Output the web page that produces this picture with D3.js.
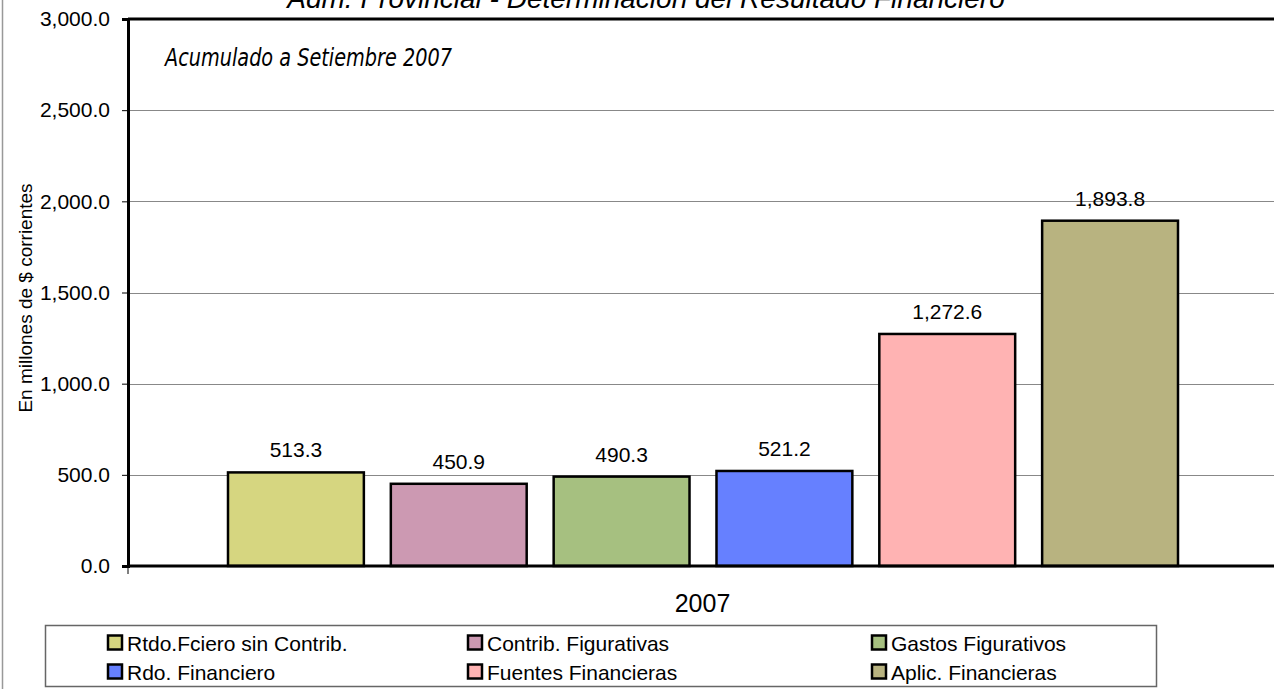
<!DOCTYPE html>
<html><head><meta charset="utf-8">
<script src="https://cdn.jsdelivr.net/npm/d3@7"></script>
<style>body{margin:0;background:#fff;}svg{display:block;font-family:Arial,"Liberation Sans",sans-serif;}</style>
</head><body>
<svg id="c" width="1274" height="689"></svg>
<script>
const categories = ["2007"];
const seriesNames = ["Rtdo.Fciero sin Contrib.","Contrib. Figurativas","Gastos Figurativos","Rdo. Financiero","Fuentes Financieras","Aplic. Financieras"];
const seriesValues = [513.3, 450.9, 490.3, 521.2, 1272.6, 1893.8];
const seriesColors = ["#D6D680","#CC99B2","#A6C080","#6680FF","#FFB3B3","#B8B380"];
const yTicks = [0,500,1000,1500,2000,2500,3000];

const svg = d3.select("#c");
const L=128, T=19, R=1276, B=566;
const y = d3.scaleLinear().domain([0,3000]).range([B,T]);
const x0 = d3.scaleBand().domain(categories).range([L,R]).paddingInner(0).paddingOuter(0);
const x1 = d3.scaleBand().domain(seriesNames).range([x0("2007")+100, x0("2007")+x0.bandwidth()-98]).paddingInner(27/163).paddingOuter(0);
const fmt = d3.format(",.1f");
const FS = 21;

// outer chart border (left visible)
svg.append("line").attr("x1",2.5).attr("x2",2.5).attr("y1",0).attr("y2",689).attr("stroke","#999").attr("stroke-width",1.5);

// gridlines
svg.append("g").selectAll("line").data(yTicks.filter(d=>d>0 && d<3000)).join("line")
  .attr("x1",L).attr("x2",1274).attr("y1",d=>Math.round(y(d))+0.5).attr("y2",d=>Math.round(y(d))+0.5)
  .attr("stroke","#888").attr("stroke-width",1);
// top border
svg.append("line").attr("x1",L).attr("x2",1274).attr("y1",y(3000)).attr("y2",y(3000)).attr("stroke","#000").attr("stroke-width",3);

// y axis
const ya = svg.append("g").attr("transform",`translate(${L},0)`)
  .call(d3.axisLeft(y).tickValues(yTicks).tickFormat(fmt).tickSize(6).tickPadding(12));
ya.select(".domain").attr("stroke","#000").attr("stroke-width",3);
ya.selectAll(".tick line").attr("stroke","#000").attr("stroke-width",1);
ya.selectAll(".tick text").attr("font-size",FS).attr("fill","#000").attr("font-family","Arial, 'Liberation Sans', sans-serif");

// bars
svg.append("g").selectAll("rect").data(seriesValues).join("rect")
  .attr("x",(d,i)=>x1(seriesNames[i])).attr("width",x1.bandwidth())
  .attr("y",d=>y(d)).attr("height",d=>B-y(d))
  .attr("fill",(d,i)=>seriesColors[i]).attr("stroke","#000").attr("stroke-width",2.5);

// x axis
svg.append("line").attr("x1",L).attr("x2",1274).attr("y1",B).attr("y2",B).attr("stroke","#000").attr("stroke-width",3);
svg.append("line").attr("x1",L).attr("x2",L).attr("y1",B).attr("y2",B+8).attr("stroke","#000").attr("stroke-width",1);

// value labels
svg.append("g").selectAll("text").data(seriesValues).join("text")
  .attr("x",(d,i)=>x1(seriesNames[i])+x1.bandwidth()/2).attr("y",d=>y(d)-15)
  .attr("text-anchor","middle").attr("font-size",FS).attr("fill","#000").text(d=>fmt(d));

// category label
svg.append("text").attr("x",702.5).attr("y",612).attr("text-anchor","middle")
  .attr("font-size",25).text(categories[0]);

// titles
svg.append("text").attr("x",646).attr("y",8).attr("text-anchor","middle").attr("font-size",28)
  .attr("font-style","italic").text("Adm. Provincial - Determinación del Resultado Financiero");
svg.append("text").attr("x",165).attr("y",66).attr("font-size",25).attr("font-style","italic")
  .attr("font-family","'Comic Sans MS','DejaVu Sans',sans-serif").attr("textLength",287).attr("lengthAdjust","spacingAndGlyphs")
  .text("Acumulado a Setiembre 2007");

// y axis title
svg.append("text").attr("transform","translate(32,298) rotate(-90)").attr("text-anchor","middle")
  .attr("font-size",19).text("En millones de $ corrientes");

// legend
svg.append("rect").attr("x",45.5).attr("y",625.5).attr("width",1111).attr("height",61).attr("fill","#fff").attr("stroke","#666").attr("stroke-width",1.5);
const colX=[107,467,871], rowY=[642.5,671.5];
const lg = svg.append("g").selectAll("g").data(seriesNames).join("g")
  .attr("transform",(d,i)=>`translate(${colX[i%3]},${rowY[Math.floor(i/3)]})`);
lg.append("rect").attr("x",1).attr("y",-7).attr("width",14).attr("height",14)
  .attr("fill",(d,i)=>seriesColors[i]).attr("stroke","#000").attr("stroke-width",2.5);
lg.append("text").attr("x",20).attr("y",8).attr("font-size",FS).text(d=>d);
</script>
</body></html>
